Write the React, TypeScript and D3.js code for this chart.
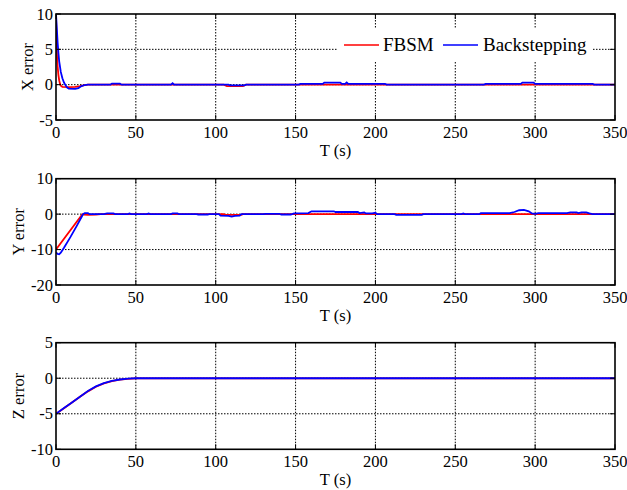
import React from 'react';
import * as d3 from 'd3';

// time axis ticks, shared by all three panels
const timeTicks = [0, 50, 100, 150, 200, 250, 300, 350];

const xErrTicks = [-5, 0, 5, 10];
const yErrTicks = [-20, -10, 0, 10];
const zErrTicks = [-10, -5, 0, 5];

const seriesNames = ['FBSM', 'Backstepping'];

// X error, FBSM (red)
const tXFbsm = [0, 0.3, 0.6, 1, 1.5, 2, 2.5, 3, 4, 8, 12, 15, 18, 20, 105, 107, 117, 119, 350];
const xFbsm = [10, 6.5, 4.2, 2.6, 1.4, 0.6, 0.15, -0.15, -0.3, -0.35, -0.3, -0.2, -0.05, 0, 0, -0.2, -0.2, 0, 0];
// X error, Backstepping (blue)
const tXBack = [0, 0.5, 1, 1.5, 2, 3, 4, 5, 6, 7, 8, 12, 14, 16, 18, 20, 34, 35, 40, 41, 72, 73, 74, 108, 109, 118, 119, 152, 153, 167, 168, 178, 179, 181, 182, 183, 206, 207, 268, 269, 291, 292, 299, 300, 336, 337, 350];
const xBack = [10, 8, 6, 4.5, 3.3, 1.8, 0.9, 0.3, -0.1, -0.4, -0.55, -0.6, -0.5, -0.2, -0.05, 0, 0, 0.15, 0.15, 0, 0, 0.2, 0, 0, -0.1, -0.1, 0, 0, 0.1, 0.1, 0.3, 0.3, 0.1, 0.1, 0.3, 0.1, 0.1, 0, 0, 0.1, 0.1, 0.3, 0.3, 0.1, 0.1, 0, 0];

// Y error
const tYFbsm = [0, 16.5, 17.5, 20, 25, 28, 105, 106, 116, 117, 350];
const yFbsm = [-10, 0, -0.1, -0.2, -0.1, 0, 0, -0.2, -0.2, 0, 0];
const tYBack = [0, 1, 2, 3, 5, 9, 13, 16, 17, 18, 20, 21, 30, 32, 36, 37, 45, 46, 47, 57, 58, 59, 72, 73, 76, 77, 88, 89, 95, 96, 102, 103, 108, 110, 112, 115, 116, 130, 131, 140, 141, 147, 149, 158, 160, 174, 175, 189, 190, 193, 194, 198, 200, 201, 212, 213, 229, 230, 254, 255, 256, 265, 266, 284, 287, 290, 293, 296, 298, 300, 302, 320, 322, 326, 327, 329, 332, 334, 336, 350];
const yBack = [-10.8, -11.2, -11.3, -10.9, -9.5, -6.5, -3.3, -0.8, 0, 0.3, 0.3, 0, 0, 0.2, 0.2, 0, 0, 0.2, 0, 0, 0.2, 0, 0, 0.2, 0.2, 0, 0, -0.1, -0.1, 0, 0, -0.4, -0.5, -0.7, -0.5, -0.4, 0, 0, 0.1, 0.1, -0.1, -0.1, 0.2, 0.3, 0.8, 0.8, 0.6, 0.6, 0.3, 0.5, 0.2, 0.2, 0.4, 0, 0, -0.2, -0.2, 0, 0, 0.2, 0, 0, 0.3, 0.3, 0.6, 1.1, 1.2, 0.8, 0.2, 0.1, 0.3, 0.3, 0.5, 0.5, 0.3, 0.5, 0.5, 0.2, 0, 0];

// Z error
const tZ = [0, 5, 10, 15, 20, 25, 30, 35, 40, 45, 50, 350];
const zFbsm = [-5, -4.22, -3.42, -2.62, -1.85, -1.2, -0.72, -0.4, -0.2, -0.08, -0.02, -0.02];
const zBack = [-5, -4.2, -3.4, -2.6, -1.8, -1.15, -0.68, -0.37, -0.18, -0.06, 0, 0];

const zip = (t: number[], v: number[]) => t.map((d, i) => [d, v[i]] as [number, number]);

const W = 627;
const H = 490;
const left = 56;
const right = 615;
const font = 'Liberation Serif';
const red = '#ff0000';
const blue = '#0000ff';

const panels = [
  { id: 'x', top: 14, bottom: 120, label: 'X error', labelX: 33, domain: [-5, 10], ticks: xErrTicks, fbsm: zip(tXFbsm, xFbsm), back: zip(tXBack, xBack), legend: true },
  { id: 'y', top: 178.7, bottom: 285, label: 'Y error', labelX: 24, domain: [-20, 10], ticks: yErrTicks, fbsm: zip(tYFbsm, yFbsm), back: zip(tYBack, yBack), legend: false },
  { id: 'z', top: 342.7, bottom: 449.3, label: 'Z error', labelX: 24, domain: [-10, 5], ticks: zErrTicks, fbsm: zip(tZ, zFbsm), back: zip(tZ, zBack), legend: false },
];

const xScale = d3.scaleLinear().domain([0, 350]).range([left, right]);
const txt = (size: number) => ({ fontFamily: font, fontSize: size, fill: '#000' });

const Panel = ({ p }: { p: typeof panels[number] }) => {
  const y = d3.scaleLinear().domain(p.domain).range([p.bottom, p.top]);
  const line = d3.line<[number, number]>().x(d => xScale(d[0])).y(d => y(d[1]));
  const innerX = timeTicks.slice(1, -1);
  const innerY = p.ticks.slice(1, -1);
  const midY = (p.top + p.bottom) / 2;
  return (
    <g>
      <defs>
        <clipPath id={`clip-${p.id}`}>
          <rect x={left} y={p.top} width={right - left} height={p.bottom - p.top} />
        </clipPath>
      </defs>
      {/* dotted grid */}
      {innerX.map(t => (
        <line key={'gx' + t} x1={xScale(t)} x2={xScale(t)} y1={p.top} y2={p.bottom} stroke="#000" strokeWidth={1} strokeDasharray="1.5,1.5" />
      ))}
      {innerY.map(v => (
        <line key={'gy' + v} x1={left} x2={right} y1={y(v)} y2={y(v)} stroke="#000" strokeWidth={1} strokeDasharray="1.5,1.5" />
      ))}
      {p.legend && (
        <g>
          <rect x={337} y={28} width={255} height={34} fill="#fff" />
          <line x1={344} x2={379} y1={45} y2={45} stroke={red} strokeWidth={1.5} />
          <text x={383} y={51} style={txt(19)}>{seriesNames[0]}</text>
          <line x1={443} x2={478} y1={45} y2={45} stroke={blue} strokeWidth={1.5} />
          <text x={483} y={51} style={txt(19)}>{seriesNames[1]}</text>
        </g>
      )}
      <g clipPath={`url(#clip-${p.id})`}>
        <path d={line(p.fbsm) || ''} fill="none" stroke={red} strokeWidth={1.8} />
        <path d={line(p.back) || ''} fill="none" stroke={blue} strokeWidth={1.8} />
      </g>
      {/* inward ticks */}
      {timeTicks.map(t => (
        <g key={'tx' + t}>
          <line x1={xScale(t)} x2={xScale(t)} y1={p.bottom} y2={p.bottom - 5} stroke="#000" />
          <line x1={xScale(t)} x2={xScale(t)} y1={p.top} y2={p.top + 5} stroke="#000" />
          <text x={xScale(t)} y={p.bottom + 18} textAnchor="middle" style={txt(16.5)}>{t}</text>
        </g>
      ))}
      {p.ticks.map(v => (
        <g key={'ty' + v}>
          <line x1={left} x2={left + 5} y1={y(v)} y2={y(v)} stroke="#000" />
          <line x1={right} x2={right - 5} y1={y(v)} y2={y(v)} stroke="#000" />
          <text x={left - 3} y={y(v) + 5.5} textAnchor="end" style={txt(16.5)}>{v}</text>
        </g>
      ))}
      <rect x={left} y={p.top} width={right - left} height={p.bottom - p.top} fill="none" stroke="#000" strokeWidth={1.6} />
      <text x={(left + right) / 2} y={p.bottom + 36} textAnchor="middle" style={txt(16.5)}>T (s)</text>
      <text transform={`translate(${p.labelX},${midY}) rotate(-90)`} textAnchor="middle" style={txt(16.5)}>{p.label}</text>
    </g>
  );
};

export default function App() {
  return (
    <div style={{ position: 'absolute', left: 0, top: 0 }}>
      <svg width={W} height={H} style={{ display: 'block', background: '#fff' }}>
        <rect width={W} height={H} fill="#fff" />
        {panels.map(p => <Panel key={p.id} p={p} />)}
      </svg>
    </div>
  );
}
